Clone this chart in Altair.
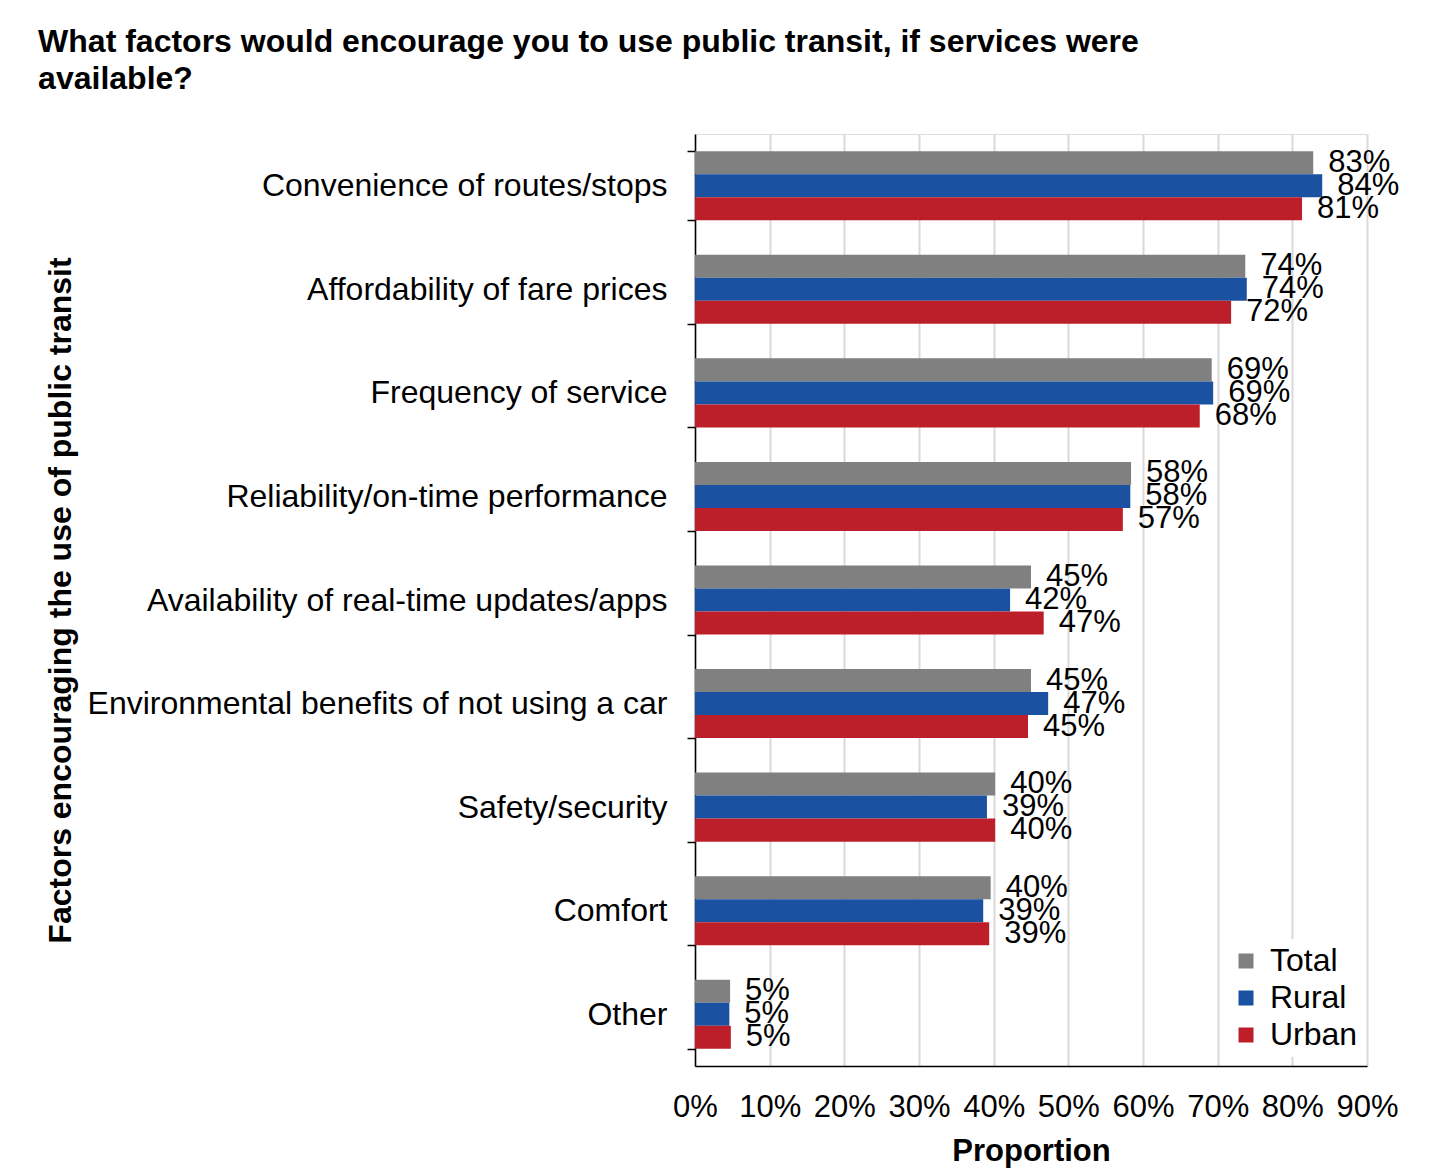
import altair as alt
import pandas as pd

categories = [
    "Convenience of routes/stops",
    "Affordability of fare prices",
    "Frequency of service",
    "Reliability/on-time performance",
    "Availability of real-time updates/apps",
    "Environmental benefits of not using a car",
    "Safety/security",
    "Comfort",
    "Other",
]
series = ["Total", "Rural", "Urban"]
total = [82.8, 73.7, 69.2, 58.4, 45.0, 45.0, 40.2, 39.6, 4.7]
rural = [84.0, 73.9, 69.4, 58.3, 42.2, 47.3, 39.1, 38.6, 4.6]
urban = [81.3, 71.8, 67.6, 57.3, 46.7, 44.6, 40.2, 39.4, 4.8]
colors = ["#808080", "#1B51A1", "#BC1F2A"]

rows = []
for s, vals in zip(series, [total, rural, urban]):
    for c, v in zip(categories, vals):
        rows.append({"Factor": c, "Group": s, "Value": v / 100})
df = pd.DataFrame(rows)

FONT = "Liberation Sans"

y_enc = alt.Y(
    "Factor:N",
    sort=categories,
    scale=alt.Scale(paddingInner=0.333, paddingOuter=0.1665),
    axis=alt.Axis(
        title="Factors encouraging the use of public transit",
        titleFontSize=32,
        titleFontWeight="bold",
        titleFont=FONT,
        titleColor="#000",
        titlePadding=10,
        labelFontSize=32,
        labelFont=FONT,
        labelColor="#000",
        labelLimit=800,
        labelPadding=20,
        maxExtent=900,
        tickBand="extent",
        tickSize=8,
        tickColor="#000",
        tickWidth=1.5,
        domainColor="#000",
        domainWidth=1.5,
        grid=False,
    ),
)
yoff = alt.YOffset("Group:N", sort=series, scale=alt.Scale(paddingInner=0, paddingOuter=0))

x_enc = alt.X(
    "Value:Q",
    scale=alt.Scale(domain=[0, 0.9], nice=False),
    axis=alt.Axis(
        title="Proportion",
        format=".0%",
        values=[i / 10 for i in range(10)],
        titleFontSize=31,
        titleFontWeight="bold",
        titleFont=FONT,
        titleColor="#000",
        titlePadding=14,
        labelFontSize=31,
        labelFont=FONT,
        labelColor="#000",
        labelPadding=26,
        ticks=False,
        domainColor="#000",
        domainWidth=1.5,
        grid=True,
        gridColor="#D9D9D9",
        gridWidth=2,
        labelFlush=False,
    ),
)

bars = alt.Chart(df).mark_bar().encode(
    y=y_enc,
    yOffset=yoff,
    x=x_enc,
    color=alt.Color(
        "Group:N",
        sort=series,
        scale=alt.Scale(domain=series, range=colors),
        legend=alt.Legend(
            title=None,
            orient="none",
            legendX=529,
            legendY=805,
            symbolType="square",
            symbolSize=225,
            symbolStrokeWidth=0,
            labelFontSize=32,
            labelFont=FONT,
            labelColor="#000",
            labelOffset=8,
            rowPadding=5,
            fillColor="#FFFFFF",
            padding=6,
        ),
    ),
)

labels = alt.Chart(df).mark_text(
    align="left", baseline="middle", dx=15, fontSize=31, font=FONT, color="#000"
).encode(
    y=alt.Y("Factor:N", sort=categories),
    yOffset=alt.YOffset("Group:N", sort=series),
    x=alt.X("Value:Q"),
    text=alt.Text("Value:Q", format=".0%"),
)

chart = (
    alt.layer(bars, labels)
    .properties(
        width=672,
        height=932,
        title=alt.TitleParams(
            text=[
                "What factors would encourage you to use public transit, if services were",
                "available?",
            ],
            anchor="start",
            fontSize=32,
            font=FONT,
            fontWeight="bold",
            color="#000",
            lineHeight=37,
            offset=22,
            dx=-6,
        ),
        padding={"left": 38, "top": 26, "right": 30, "bottom": 2},
    )
    .configure_view(stroke="#000", strokeWidth=1.5)
    .configure(background="#FFFFFF")
)

chart.save("out.html", embed_options={"renderer": "svg", "actions": False})
